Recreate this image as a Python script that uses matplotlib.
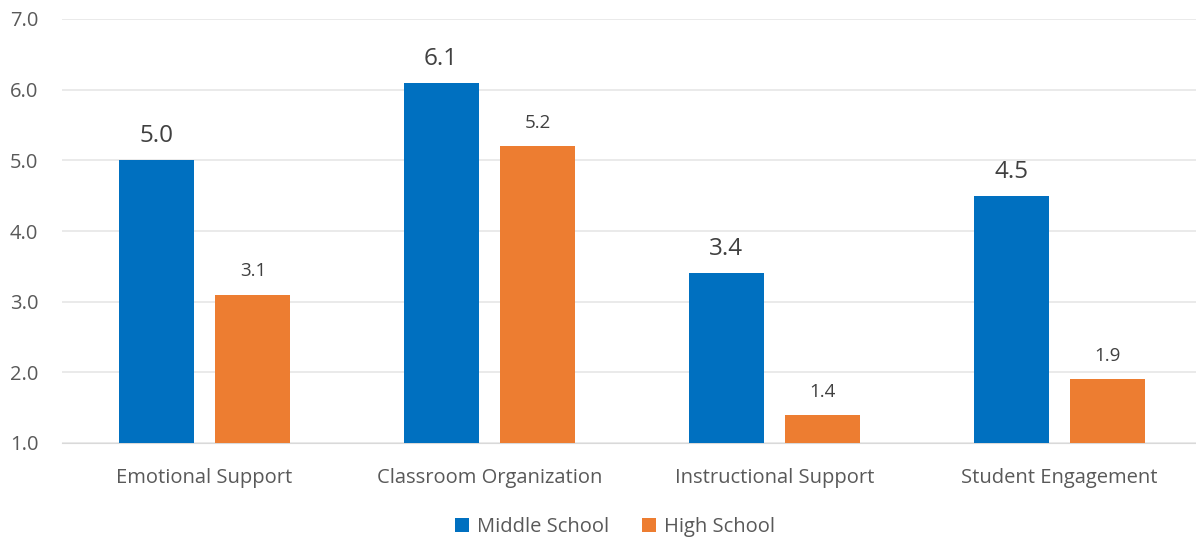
import numpy as np
import matplotlib.pyplot as plt

categories = ['Emotional Support', 'Classroom Organization', 'Instructional Support', 'Student Engagement']
middle_school = [5.0, 6.1, 3.4, 4.5]
high_school = [3.1, 5.2, 1.4, 1.9]
yticks = [1.0, 2.0, 3.0, 4.0, 5.0, 6.0, 7.0]

blue = '#0070C0'
orange = '#ED7D31'
gray = '#595959'

plt.rcParams['font.family'] = ['Open Sans', 'DejaVu Sans']

fig = plt.figure(figsize=(11.96, 5.41), dpi=100)
ax = fig.add_axes([62 / 1196, 1 - 443 / 541, (1202 - 62) / 1196, (443 - 19) / 541])

x = np.arange(len(categories))
w = 0.263
off = 0.17
b1 = ax.bar(x - off, middle_school, w, color=blue, label='Middle School', zorder=3)
b2 = ax.bar(x + off, high_school, w, color=orange, label='High School', zorder=3)

for i in range(len(categories)):
    ax.text(x[i] - off, middle_school[i] + 0.17, f'{middle_school[i]:.1f}', ha='center', va='bottom',
            fontsize=17.5, color='#404040')
    ax.text(x[i] + off, high_school[i] + 0.2, f'{high_school[i]:.1f}', ha='center', va='bottom',
            fontsize=13.5, color='#404040')

ax.set_ylim(1.0, 7.0)
ax.set_xlim(-0.5, 3.5)
ax.set_yticks(yticks)
ax.set_yticklabels([f'{v:.1f}' for v in yticks])
ax.set_xticks(x)
ax.set_xticklabels(categories)
ax.tick_params(axis='both', length=0, labelsize=14.5, colors=gray)
ax.tick_params(axis='x', pad=18)
ax.tick_params(axis='y', pad=17)
ax.yaxis.grid(True, color='#E6E6E6', linewidth=1.2, zorder=0)
for s in ['top', 'right', 'left']:
    ax.spines[s].set_visible(False)
ax.spines['bottom'].set_color('#D9D9D9')

fig.legend(handles=[b1, b2], loc='center', bbox_to_anchor=(615 / 1196, 1 - 527 / 541), ncol=2,
           frameon=False, fontsize=14.5, labelcolor=gray, handlelength=0.7, handleheight=0.7,
           handletextpad=0.4, columnspacing=1.6)

fig.savefig('out.png', dpi=100)
